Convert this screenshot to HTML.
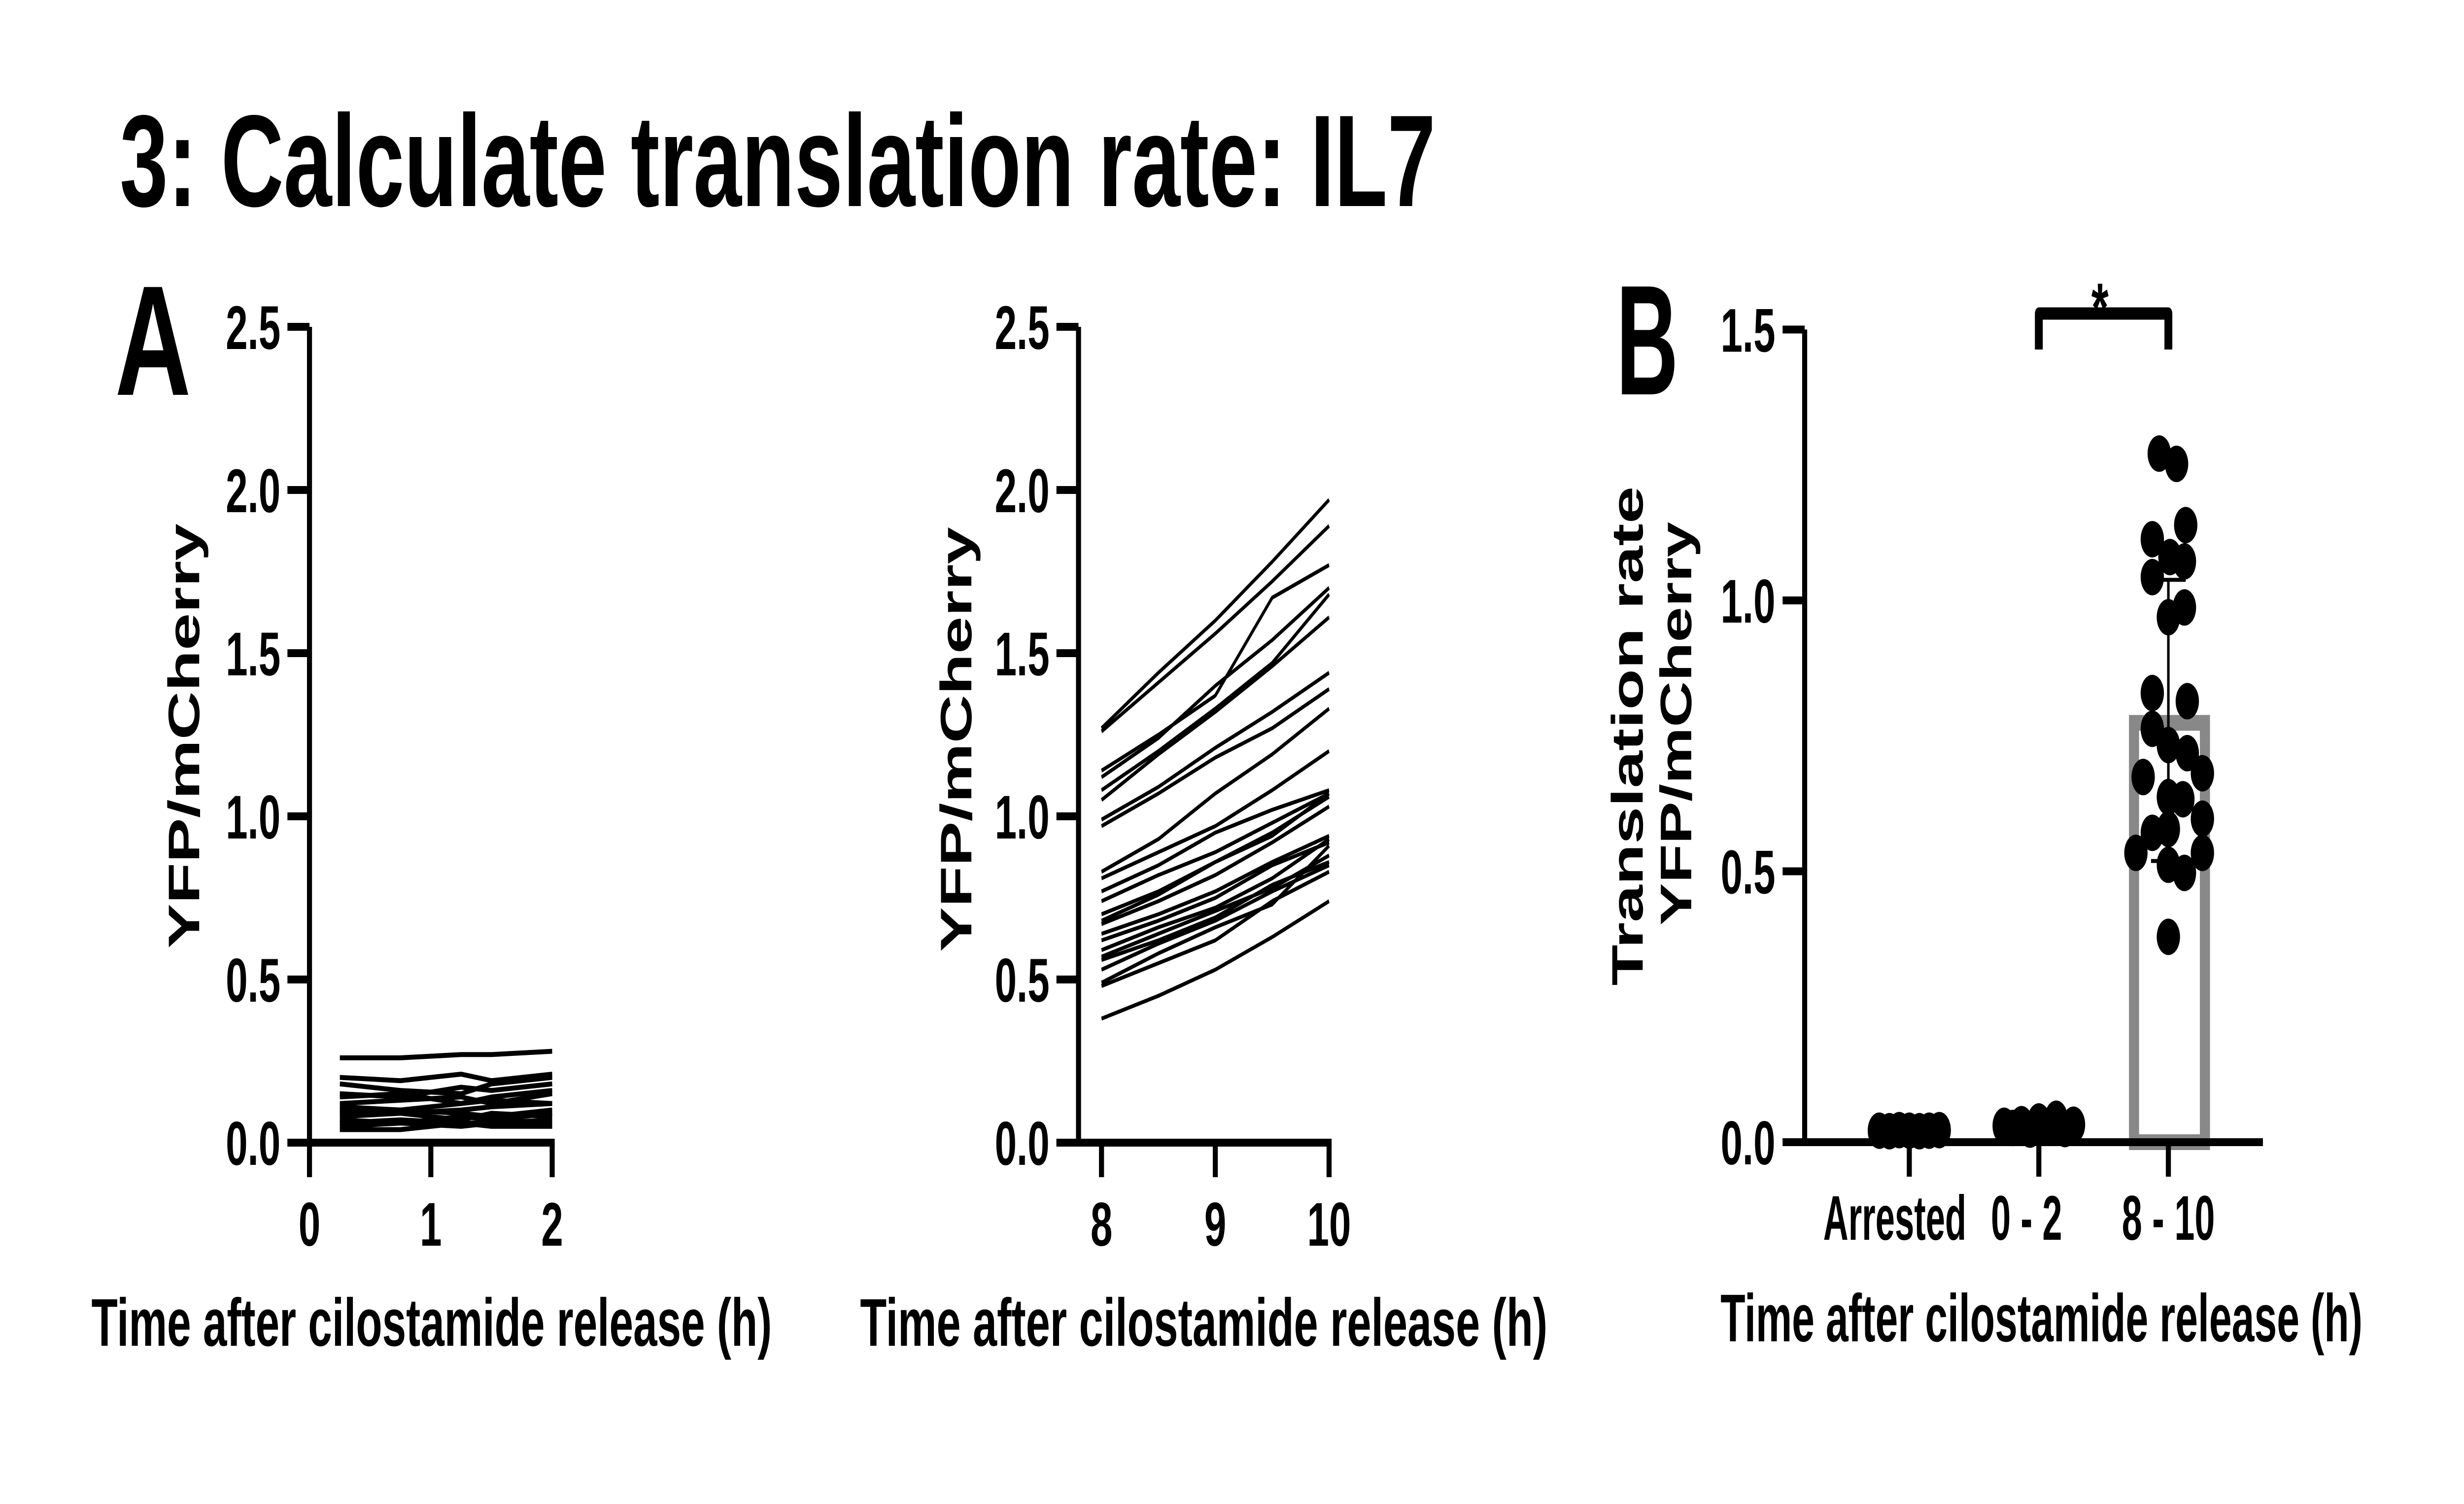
<!DOCTYPE html>
<html><head><meta charset="utf-8">
<style>
html,body{margin:0;padding:0;background:#fff;width:100%;height:100%;overflow:hidden;}
svg{display:block;width:100vw;height:100vh;}
text{font-family:"Liberation Sans",Arial,sans-serif;font-weight:bold;fill:#000;}
</style></head>
<body>
<svg id="fig" xmlns="http://www.w3.org/2000/svg" viewBox="0 0 7818 3051" preserveAspectRatio="none">
<rect width="7818" height="3051" fill="#fff"/>
<text x="380" y="418" font-size="265" textLength="4175" lengthAdjust="spacingAndGlyphs">3: Calculate translation rate: IL7</text>
<text x="365" y="801" font-size="318" textLength="241" lengthAdjust="spacingAndGlyphs">A</text>
<text x="5128" y="800" font-size="318" textLength="197" lengthAdjust="spacingAndGlyphs">B</text>
<g id="a1"></g>
<g id="a2"></g>
<g id="b"></g>
</svg>
<script>
// ---------- data ----------
const a1X = [0.25, 0.75, 1.25, 1.5, 2];
const a1Lines = [
 [0.26,0.26,0.27,0.27,0.28],
 [0.20,0.19,0.21,0.19,0.21],
 [0.18,0.16,0.15,0.18,0.20],
 [0.15,0.14,0.17,0.16,0.18],
 [0.14,0.15,0.12,0.14,0.16],
 [0.12,0.13,0.14,0.12,0.15],
 [0.11,0.10,0.12,0.13,0.12],
 [0.10,0.09,0.10,0.11,0.12],
 [0.09,0.10,0.09,0.08,0.10],
 [0.08,0.09,0.07,0.09,0.08],
 [0.07,0.06,0.08,0.07,0.09],
 [0.06,0.07,0.06,0.06,0.07],
 [0.05,0.06,0.05,0.06,0.06],
 [0.04,0.04,0.06,0.05,0.05]
];
const a1XTicks = [0, 1, 2];
const a2X = [8, 8.5, 9, 9.5, 10];
const a2Lines = [
 [1.27,1.44,1.60,1.78,1.97],
 [1.26,1.41,1.56,1.72,1.89],
 [1.14,1.25,1.37,1.67,1.77],
 [1.12,1.24,1.40,1.54,1.70],
 [1.08,1.20,1.33,1.47,1.68],
 [1.05,1.19,1.32,1.46,1.61],
 [0.99,1.09,1.21,1.32,1.44],
 [0.97,1.07,1.18,1.27,1.39],
 [0.83,0.93,1.07,1.19,1.33],
 [0.81,0.89,0.97,1.08,1.20],
 [0.77,0.85,0.95,1.02,1.08],
 [0.74,0.82,0.89,0.98,1.07],
 [0.70,0.77,0.86,0.95,1.06],
 [0.68,0.76,0.86,0.94,1.07],
 [0.67,0.74,0.82,0.92,1.03],
 [0.64,0.70,0.77,0.86,0.94],
 [0.62,0.68,0.75,0.85,0.92],
 [0.59,0.66,0.72,0.81,0.93],
 [0.57,0.64,0.71,0.78,0.88],
 [0.56,0.62,0.69,0.79,0.86],
 [0.53,0.61,0.68,0.77,0.85],
 [0.49,0.58,0.66,0.73,0.91],
 [0.48,0.55,0.62,0.74,0.83],
 [0.38,0.45,0.53,0.63,0.74]
];
const a2XTicks = [8, 9, 10];
const aYTicks = [0, 0.5, 1.0, 1.5, 2.0, 2.5];
const aYTickLabels = ["0.0","0.5","1.0","1.5","2.0","2.5"];

const bCategories = ["Arrested", "0 - 2", "8 - 10"];
const bYTicks = [0, 0.5, 1.0, 1.5];
const bYTickLabels = ["0.0","0.5","1.0","1.5"];
const bArrested = [0.003,0.002,0.004,0.003,0.002,0.003,0.004];
const bEarly = [0.012,0.008,0.015,0.005,0.020,0.010,0.025,0.006,0.014];
const bLate = [1.271,1.252,1.113,1.139,1.080,1.072,1.043,0.987,0.969,0.829,0.814,0.763,0.733,0.674,0.681,0.718,0.637,0.633,0.571,0.578,0.597,0.534,0.534,0.512,0.497,0.379];
const bLateMean = 0.774;
const bLateSdLow = 0.519;
const bLateSdHigh = 1.038;
// horizontal jitter (layout only, px)
const jitArrested = [-95,-63,-32,0,32,63,95];
const jitEarly = [-110,-83,-55,-28,0,28,55,83,110];
const jitLate = [-29,26,-51,55,5,51,-51,51,0,-51,60,-51,0,-80,108,60,0,46,-51,0,108,-103,108,0,51,0];

// ---------- helpers ----------
const NS = "http://www.w3.org/2000/svg";
function mk(tag, attrs, parent){
  const e = document.createElementNS(NS, tag);
  for (const k in attrs) e.setAttribute(k, attrs[k]);
  parent.appendChild(e);
  return e;
}

// ---------- panel A (line plots) ----------
function drawA(g, cfg){
  const yS = v => cfg.y0 - v * cfg.yPer;
  const xS = v => cfg.xAxis0 + (v - cfg.xMin) * cfg.xPer;
  cfg.lines.forEach((ln, i) => {
    const d = ln.map((v, j) => (j ? "L" : "M") + xS(cfg.xs[j]).toFixed(1) + " " + yS(v).toFixed(1)).join(" ");
    const p = mk("path", {d: d, fill: "none", stroke: "#000", "stroke-width": cfg.lw, "stroke-linejoin": "round"}, g);
    
    
  });
  const ya = mk("line", {x1: cfg.yAxisX, y1: yS(2.5), x2: cfg.yAxisX, y2: cfg.y0 + 8, stroke: "#000", "stroke-width": 16}, g);
  
  
  aYTicks.forEach((t, i) => {
    const tk = mk("line", {x1: cfg.yAxisX - 70, y1: yS(t), x2: cfg.yAxisX, y2: yS(t), stroke: "#000", "stroke-width": 16}, g);
    
    
    const tl = mk("text", {x: cfg.yAxisX - 92, y: yS(t) + 45, "font-size": 125, "text-anchor": "end"}, g);
    tl.textContent = aYTickLabels[i];
    
    
  });
  const xa = mk("line", {x1: cfg.yAxisX - 70, y1: cfg.y0, x2: xS(cfg.xTicks[cfg.xTicks.length-1]) + 8, y2: cfg.y0, stroke: "#000", "stroke-width": 16}, g);
  
  
  cfg.xTicks.forEach(t => {
    const tk = mk("line", {x1: xS(t), y1: cfg.y0, x2: xS(t), y2: cfg.y0 + 70, stroke: "#000", "stroke-width": 16}, g);
    
    
    const tl = mk("text", {x: xS(t), y: 2527, "font-size": 125, "text-anchor": "middle"}, g);
    tl.textContent = String(t);
    
    
  });
  const xt = mk("text", {x: cfg.titleX, y: 2730, "font-size": 137, textLength: cfg.titleW, lengthAdjust: "spacingAndGlyphs"}, g);
  xt.textContent = "Time after cilostamide release (h)";
  
  
  const yt = mk("text", {x: 0, y: 0, "font-size": 140, "text-anchor": "middle", textLength: 862, lengthAdjust: "spacingAndGlyphs",
    transform: "translate(" + cfg.yTitleX + "," + cfg.yTitleY + ") rotate(-90)"}, g);
  yt.textContent = "YFP/mCherry";
  
  
}

drawA(document.getElementById("a1"), {
  lines: a1Lines, xs: a1X, xTicks: a1XTicks, xMin: 0,
  yAxisX: 982, xAxis0: 982, xPer: 385, y0: 2318, yPer: 662, lw: 10,
  titleX: 290, titleW: 2159, yTitleX: 632, yTitleY: 1493
});
drawA(document.getElementById("a2"), {
  lines: a2Lines, xs: a2X, xTicks: a2XTicks, xMin: 8,
  yAxisX: 3422, xAxis0: 3495, xPer: 361, y0: 2318, yPer: 662, lw: 8,
  titleX: 2729, titleW: 2181, yTitleX: 3082, yTitleY: 1500
});

// ---------- panel B ----------
(function(){
  const g = document.getElementById("b");
  const axX = 5726, y0 = 2317, yPer = 1099;
  const catX = [6058, 6469, 6880];
  const yS = v => y0 - v * yPer;
  const bar = mk("rect", {x: 6771, y: yS(bLateMean), width: 225, height: y0 - yS(bLateMean), fill: "none", stroke: "#888", "stroke-width": 32}, g);
  
  
  const groups = [[bArrested, jitArrested, 0], [bEarly, jitEarly, 1], [bLate, jitLate, 2]];
  groups.forEach(([vals, jit, ci]) => {
    vals.forEach((v, i) => {
      const c = mk("circle", {cx: catX[ci] + jit[i], cy: yS(v) - (ci < 2 ? 20 : 0), r: 37, fill: "#000"}, g);
      
      
    });
  });
  const eb = mk("path", {d: "M" + catX[2] + " " + yS(bLateSdLow) + " V" + yS(bLateSdHigh) +
     " M" + (catX[2]-55) + " " + yS(bLateSdHigh) + " H" + (catX[2]+55) +
     " M" + (catX[2]-55) + " " + yS(bLateSdLow) + " H" + (catX[2]+55), stroke: "#000", "stroke-width": 8, fill: "none"}, g);
  
  
  const ya = mk("line", {x1: axX, y1: yS(1.5), x2: axX, y2: y0 + 8, stroke: "#000", "stroke-width": 16}, g);
  
  
  bYTicks.forEach((t, i) => {
    const tk = mk("line", {x1: axX - 70, y1: yS(t), x2: axX, y2: yS(t), stroke: "#000", "stroke-width": 16}, g);
    
    
    const tl = mk("text", {x: axX - 93, y: yS(t) + 45, "font-size": 125, "text-anchor": "end"}, g);
    tl.textContent = bYTickLabels[i];
    
    
  });
  const xa = mk("line", {x1: axX - 70, y1: y0, x2: 7180, y2: y0, stroke: "#000", "stroke-width": 16}, g);
  
  
  const labW = [454, 226, 295];
  const labX = [6012, 6430, 6880];
  bCategories.forEach((c, i) => {
    const tk = mk("line", {x1: catX[i], y1: y0, x2: catX[i], y2: y0 + 70, stroke: "#000", "stroke-width": 16}, g);
    
    
    const tl = mk("text", {x: labX[i], y: 2515, "font-size": 128, "text-anchor": "middle", textLength: labW[i], lengthAdjust: "spacingAndGlyphs"}, g);
    tl.textContent = c;
    
    
  });
  const br = mk("path", {d: "M" + catX[1] + " 709 V636 H" + catX[2] + " V709", stroke: "#000", "stroke-width": 25, fill: "none", "stroke-linejoin": "round"}, g);
  
  
  const st = mk("text", {x: 6663, y: 672, "font-size": 140, "text-anchor": "middle"}, g);
  st.textContent = "*";
  
  
  const xt = mk("text", {x: 5459, y: 2721, "font-size": 137, textLength: 2037, lengthAdjust: "spacingAndGlyphs"}, g);
  xt.textContent = "Time after cilostamide release (h)";
  
  
  const yt1 = mk("text", {x: 0, y: 0, "font-size": 140, "text-anchor": "middle", textLength: 1013, lengthAdjust: "spacingAndGlyphs",
    transform: "translate(5212,1493) rotate(-90)"}, g);
  yt1.textContent = "Translation rate";
  
  
  const yt2 = mk("text", {x: 0, y: 0, "font-size": 140, "text-anchor": "middle", textLength: 819, lengthAdjust: "spacingAndGlyphs",
    transform: "translate(5366,1468) rotate(-90)"}, g);
  yt2.textContent = "YFP/mCherry";
  
  
})();
</script>
</body></html>
